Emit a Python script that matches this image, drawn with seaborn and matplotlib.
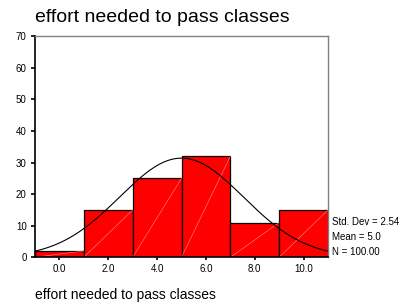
import numpy as np
import pandas as pd
import matplotlib
matplotlib.use("Agg")
import matplotlib.pyplot as plt
import seaborn as sns

# histogram of "effort needed to pass classes"
bin_centers = [0, 2, 4, 6, 8, 10]
counts = [2, 15, 25, 32, 11, 15]
bin_width = 2
tick_labels = ["0.0", "2.0", "4.0", "6.0", "8.0", "10.0"]
std_dev = 2.54
mean = 5.0
n_total = 100

sns.set_style("white")
plt.rcParams["font.family"] = ["Liberation Sans", "DejaVu Sans"]
plt.rcParams["text.color"] = "black"

fig = plt.figure(figsize=(4.02, 3.03), dpi=100)
ax = fig.add_axes([0.087, 0.151, 0.729, 0.729])

df = pd.DataFrame({"value": bin_centers, "count": counts})
edges = [c - bin_width / 2 for c in bin_centers] + [bin_centers[-1] + bin_width / 2]
sns.histplot(data=df, x="value", weights="count", binwidth=bin_width,
             binrange=(edges[0], edges[-1]), color="#ff0000",
             edgecolor="black", linewidth=0.9, alpha=1, ax=ax)

# faint diagonal line inside each bar (SPSS rendering artefact)
for c, h in zip(bin_centers, counts):
    ax.plot([c - bin_width / 2, c + bin_width / 2], [0, h], color="#ff9090", lw=0.4)

# fitted normal curve
xs = np.linspace(edges[0], edges[-1], 200)
ys = n_total * bin_width / (std_dev * np.sqrt(2 * np.pi)) * np.exp(-0.5 * ((xs - mean) / std_dev) ** 2)
sns.lineplot(x=xs, y=ys, color="black", lw=0.8, ax=ax)

ax.set_xlim(edges[0], edges[-1])
ax.set_ylim(0, 70)
ax.set_xticks(bin_centers)
ax.set_xticklabels(tick_labels)
ax.set_yticks(range(0, 71, 10))
ax.tick_params(axis="both", labelsize=7, length=3, width=1.2, direction="out",
               pad=3, colors="black", bottom=True, left=True)
ax.tick_params(axis="x", length=2)
ax.set_xlabel("")
ax.set_ylabel("")

for side in ["left", "bottom"]:
    ax.spines[side].set_color("black")
    ax.spines[side].set_linewidth(1.2)
for side in ["top", "right"]:
    ax.spines[side].set_color("#808080")
    ax.spines[side].set_linewidth(1.0)

fig.text(35 / 402, 1 - 18 / 303, "effort needed to pass classes", fontsize=14,
         va="center", ha="left")
fig.text(35 / 402, 1 - 295 / 303, "effort needed to pass classes", fontsize=10,
         va="center", ha="left")

stats = [f"Std. Dev = {std_dev:.2f}", f"Mean = {mean:.1f}", f"N = {n_total:.2f}"]
for i, s in enumerate(stats):
    fig.text(332 / 402, 1 - (222 + 15 * i) / 303, s, fontsize=7, va="center", ha="left")

fig.savefig("out.png", dpi=100)
